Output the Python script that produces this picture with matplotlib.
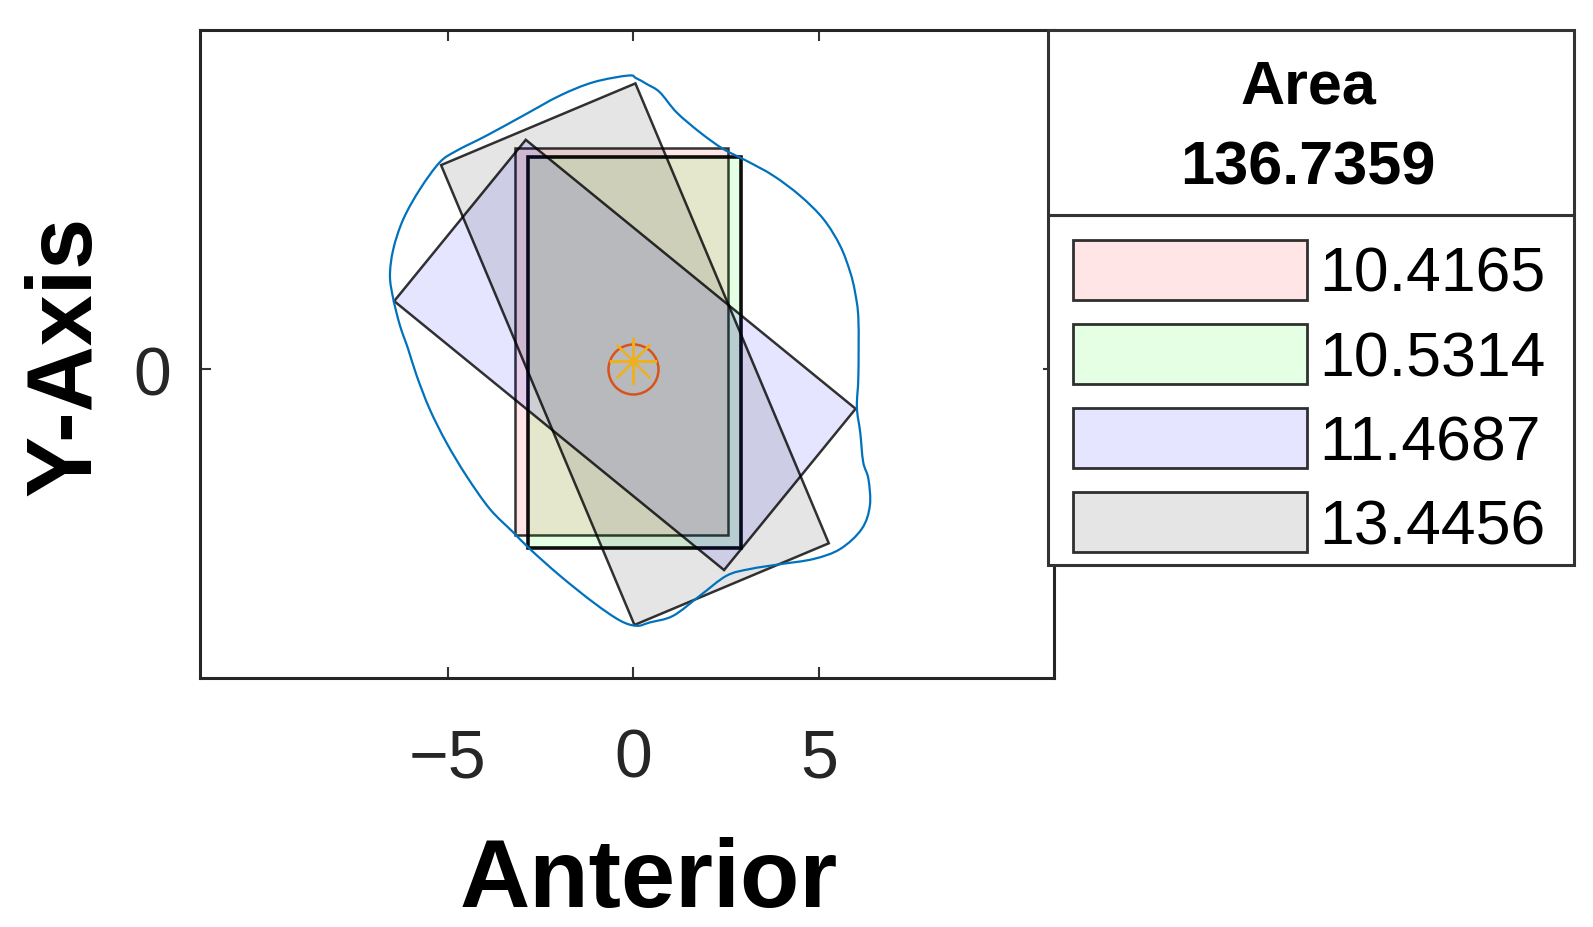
import numpy as np
import matplotlib
matplotlib.use('Agg')
import matplotlib.pyplot as plt
from matplotlib.patches import Polygon, Rectangle, PathPatch
from matplotlib.path import Path

plt.rcParams['font.family'] = ['Liberation Sans', 'DejaVu Sans']

# ---------------- data ----------------
rect_labels = ['10.4165', '10.5314', '11.4687', '13.4456']
rect_lengths = [10.4165, 10.5314, 11.4687, 13.4456]
rect_widths = [5.74, 5.75, 5.61, 5.68]
rect_cx = [-0.32, 0.025, -0.23, 0.04]
rect_cy = [0.74, 0.455, 0.38, 0.40]
rect_angle_deg = [0.0, 0.0, 50.8, 22.8]
rect_colors = ['#FF0000', '#00FF00', '#0000FF', '#000000']
total_area_label = '136.7359'
title_label = 'Area'

contour_x = [-0.14, -1.08, -1.98, -2.97, -3.96, -4.77, -5.22, -5.75, -6.20, -6.47,
             -6.56, -6.47, -6.29, -6.07, -5.84, -5.49, -5.04, -4.50, -3.87, -3.24,
             -2.79, -1.98, -1.08, -0.36, 0.09, 0.44, 1.07, 1.79, 2.51, 3.14,
             3.95, 4.85, 5.57, 6.15, 6.37, 6.33, 6.19, 6.11, 6.02, 6.06,
             6.06, 5.97, 5.84, 5.57, 5.12, 4.49, 3.77, 3.05, 2.42, 1.79,
             1.16, 0.71, 0.36, 0.07]
contour_y = [7.91, 7.73, 7.37, 6.83, 6.29, 5.88, 5.57, 4.85, 4.04, 3.23,
             2.51, 1.89, 1.17, 0.54, -0.18, -1.08, -1.98, -2.88, -3.77, -4.40,
             -4.85, -5.57, -6.29, -6.78, -6.92, -6.83, -6.65, -6.11, -5.57, -5.39,
             -5.26, -5.12, -4.85, -4.31, -3.68, -2.96, -2.51, -1.71, -1.03, -0.18,
             1.35, 2.07, 2.61, 3.32, 4.04, 4.67, 5.21, 5.61, 5.93, 6.38,
             6.92, 7.46, 7.68, 7.84]

center_x, center_y = 0.0, 0.0
centroid_x, centroid_y = 0.0, 0.22

x_ticks = [-5, 0, 5]
y_ticks = [0]
x_limits = (-11.68, 11.32)
y_limits = (-8.32, 9.15)

# ---------------- figure ----------------
fig = plt.figure(figsize=(15.93, 9.28), dpi=100)
ax = fig.add_axes([0.1255, 0.2686, 0.5359, 0.6985])


def rect_corners(cx, cy, w, L, ang):
    t = np.deg2rad(ang)
    loc = np.array([[w / 2, L / 2], [-w / 2, L / 2], [-w / 2, -L / 2], [w / 2, -L / 2]])
    R = np.array([[np.cos(t), -np.sin(t)], [np.sin(t), np.cos(t)]])
    return loc @ R.T + np.array([cx, cy])


polys = []
for i in range(len(rect_labels)):
    pts = rect_corners(rect_cx[i], rect_cy[i], rect_widths[i], rect_lengths[i], rect_angle_deg[i])
    fc = matplotlib.colors.to_rgba(rect_colors[i], 0.1)
    lw = 2.6 if i == 1 else 1.8
    ec = (0, 0, 0, 0.95) if i == 1 else (0, 0, 0, 0.8)
    p = Polygon(pts, closed=True, facecolor=fc, edgecolor=ec, linewidth=lw, zorder=2 + i)
    ax.add_patch(p)
    polys.append(p)

# smooth closed outline through the measured points (Bezier rendering)
P = np.column_stack([contour_x, contour_y])
n = len(P)
verts = [P[0]]
codes = [Path.MOVETO]
for i in range(n):
    p0, p1, p2, p3 = P[(i - 1) % n], P[i], P[(i + 1) % n], P[(i + 2) % n]
    c1 = p1 + (p2 - p0) / 6.0
    c2 = p2 - (p3 - p1) / 6.0
    verts += [c1, c2, p2]
    codes += [Path.CURVE4] * 3
ax.add_patch(PathPatch(Path(verts, codes), facecolor='none', edgecolor='#0072BD',
                       lw=1.6, zorder=8))

ax.plot([center_x], [center_y], marker='o', ms=36, mfc='none', mec='#D95319', mew=1.8, zorder=9)
ax.plot([centroid_x], [centroid_y], marker=(8, 2, 0), ms=34, mec='#EDB120', mew=1.6, zorder=10)

ax.set_xlim(*x_limits)
ax.set_ylim(*y_limits)
ax.set_xticks(x_ticks)
ax.set_yticks(y_ticks)
ax.tick_params(direction='in', length=8, width=1.5, top=True, right=True,
               labelsize=49, color='#333333', labelcolor='#262626')
ax.tick_params(axis='x', pad=35)
ax.tick_params(axis='y', pad=21)
for s in ax.spines.values():
    s.set_linewidth(2.2)
    s.set_color('#262626')

ax.set_xlabel('Anterior', fontsize=70, fontweight='bold', va='center')
ax.xaxis.set_label_coords(0.526, -0.3135)
ax.set_ylabel('Y-Axis', fontsize=66, fontweight='bold', va='center', ha='center')
ax.yaxis.set_label_coords(-0.156, 0.498)

# ---------------- legend ----------------
lx0, lx1 = 1048 / 1593, 1574 / 1593
ly_div = 1 - 215.7 / 928
ly_bot = 1 - 566 / 928
ly_top = 1 - 31 / 928

# entries box
fig.patches.append(Rectangle((lx0, ly_bot), lx1 - lx0, ly_div - ly_bot,
                             transform=fig.transFigure, facecolor='white',
                             edgecolor='#333333', linewidth=2.2, zorder=4))
leg = fig.legend(polys, rect_labels, loc='upper left',
                 bbox_to_anchor=(lx0, ly_bot, lx1 - lx0, ly_div - ly_bot),
                 mode='expand', borderaxespad=0, fontsize=45,
                 handlelength=3.74, handleheight=1.1, handletextpad=0.2,
                 labelspacing=0.32, borderpad=0.4, frameon=False)
leg.set_zorder(6)
for h in leg.legend_handles:
    h.set_linewidth(2.0)
    h.set_edgecolor((0.1, 0.1, 0.1, 0.9))

# title box
fig.patches.append(Rectangle((lx0, ly_div), lx1 - lx0, ly_top - ly_div,
                             transform=fig.transFigure, facecolor='white',
                             edgecolor='#333333', linewidth=2.2, zorder=5))
fig.text(0.8212, 1 - 88 / 928, title_label, fontsize=44, fontweight='bold',
         ha='center', va='center', zorder=6)
fig.text(0.8212, 1 - 169 / 928, total_area_label, fontsize=44, fontweight='bold',
         ha='center', va='center', zorder=6)

fig.savefig('out.png', dpi=100)
